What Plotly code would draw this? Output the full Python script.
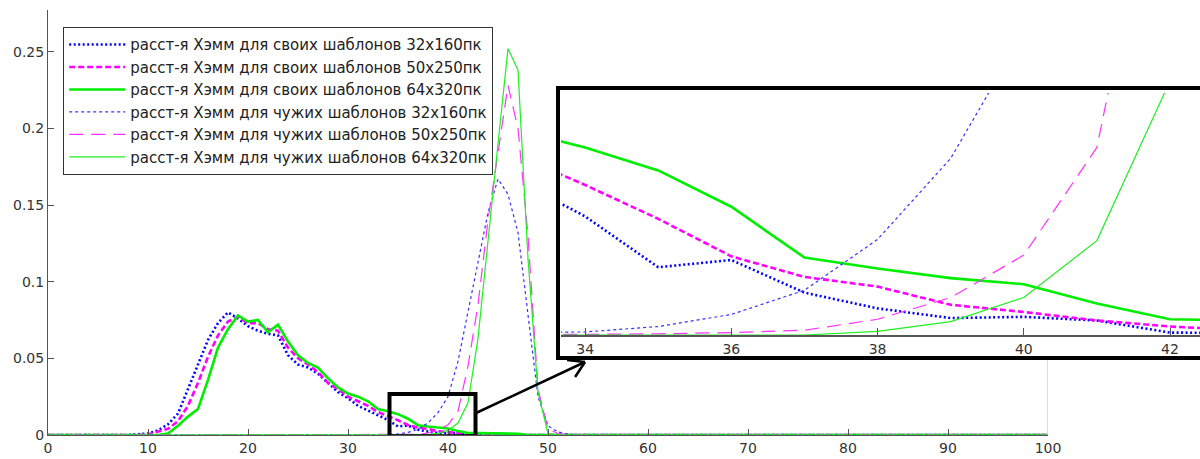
import math
import plotly.graph_objects as go

# ---------------- data ----------------
x_own = [0] + list(range(8, 49)) + [100]
blue_own = [0, 0, 0.0005, 0.001, 0.003, 0.007, 0.014, 0.030, 0.045, 0.062, 0.073,
            0.080, 0.076, 0.071, 0.068, 0.066, 0.065, 0.052, 0.046, 0.044, 0.040,
            0.034, 0.028, 0.024, 0.019, 0.016, 0.013, 0.0098, 0.0056, 0.0062, 0.0035,
            0.0022, 0.0014, 0.0015, 0.0012, 0.0002, 0.0001, 0.0001, 0, 0, 0, 0, 0]
pink_own = [0, 0, 0, 0.0005, 0.002, 0.004, 0.009, 0.019, 0.034, 0.051, 0.065,
            0.074, 0.077, 0.073, 0.073, 0.069, 0.068, 0.057, 0.050, 0.046, 0.041,
            0.034, 0.030, 0.025, 0.022, 0.019, 0.015, 0.0124, 0.0096, 0.0065, 0.0048,
            0.0040, 0.0025, 0.0019, 0.0012, 0.0007, 0.0004, 0.0002, 0.0001, 0, 0, 0, 0]
green_own = [0, 0, 0, 0, 0, 0.001, 0.006, 0.012, 0.017, 0.036, 0.057,
             0.069, 0.078, 0.074, 0.075, 0.067, 0.072, 0.061, 0.052, 0.047, 0.044,
             0.037, 0.031, 0.027, 0.025, 0.022, 0.017, 0.0155, 0.0136, 0.0106, 0.0064,
             0.0055, 0.0047, 0.0042, 0.0026, 0.0013, 0.0012, 0.001, 0.001, 0.001, 0.0008, 0, 0]

x_for = [0] + list(range(26, 54)) + [100]
blue_for = [0, 0, 0.0002, 0.0002, 0.0002, 0.0002, 0.0002, 0.0002, 0.0002, 0.00025,
            0.0007, 0.0017, 0.0037, 0.0079, 0.0146, 0.025, 0.048, 0.080, 0.112, 0.145,
            0.167, 0.157, 0.132, 0.077, 0.025, 0.006, 0.002, 0.0005, 0, 0]
pink_for = [0, 0, 0, 0, 0, 0, 0, 0, 0, 0.00005,
            0.0001, 0.0002, 0.0004, 0.0013, 0.0031, 0.0066, 0.0155, 0.045, 0.085, 0.14,
            0.185, 0.228, 0.200, 0.130, 0.030, 0.004, 0.001, 0, 0, 0]
green_for = [0, 0, 0, 0, 0, 0, 0, 0, 0, 0,
             0, 0, 0, 0.0003, 0.0011, 0.0031, 0.0078, 0.021, 0.063, 0.128,
             0.19, 0.252, 0.238, 0.115, 0.028, 0.001, 0, 0, 0, 0]

names = [
    "расст-я Хэмм для своих шаблонов 32x160пк",
    "расст-я Хэмм для своих шаблонов 50x250пк",
    "расст-я Хэмм для своих шаблонов 64x320пк",
    "расст-я Хэмм для чужих шаблонов 32x160пк",
    "расст-я Хэмм для чужих шаблонов 50x250пк",
    "расст-я Хэмм для чужих шаблонов 64x320пк",
]

main_xticks = list(range(0, 101, 10))
main_yticks = [0, 0.05, 0.1, 0.15, 0.2, 0.25]
main_yticktext = ["0", "0.05", "0.1", "0.15", "0.2", "0.25"]
inset_xticks = [34, 36, 38, 40, 42]
inset_xrange = [33.67, 42.41]
inset_yrange = [0, 0.02]
zoom_box_x = [34.15, 42.75]
zoom_box_y = [-0.0008, 0.0267]

# ---------------- layout geometry ----------------
W, H = 1200, 459
ML, MR, MT, MB = 48, 0, 10, 24
PW, PH = W - ML - MR, H - MT - MB


def px(xp):
    return (xp - ML) / PW


def py(yp):
    return (H - MB - yp) / PH


series = [
    (x_own, blue_own, "#0000ff", 2.6, "2px,2.5px"),
    (x_own, pink_own, "#ff00ff", 2.6, "6px,3px"),
    (x_own, green_own, "#00ee00", 2.6, None),
    (x_for, blue_for, "#3333ff", 1.2, "3px,3px"),
    (x_for, pink_for, "#ff33ff", 1.2, "14px,8px"),
    (x_for, green_for, "#22ee22", 1.2, None),
]

fig = go.Figure()
for (xs, ys, col, w, dash), nm in zip(series, names):
    ln = dict(color=col, width=w)
    if dash:
        ln["dash"] = dash
    fig.add_trace(go.Scatter(x=xs, y=ys, mode="lines", line=ln, name=nm,
                             xaxis="x", yaxis="y"))
for (xs, ys, col, w, dash), nm in zip(series, names):
    ln = dict(color=col, width=w)
    if dash:
        ln["dash"] = dash
    fig.add_trace(go.Scatter(x=xs, y=ys, mode="lines", line=ln, name=nm,
                             xaxis="x2", yaxis="y2", showlegend=False))

FONT = "DejaVu Sans, Verdana, sans-serif"
tickfont = dict(family=FONT, size=14, color="#333")
axcol = "#555"

fig.update_layout(
    width=W, height=H, autosize=False,
    margin=dict(l=ML, r=MR, t=MT, b=MB, pad=0, autoexpand=False),
    paper_bgcolor="white", plot_bgcolor="white",
    xaxis=dict(domain=[0, 1000 / PW], range=[0, 100], tickvals=main_xticks,
               ticks="inside", ticklen=6, tickcolor=axcol, showline=True,
               linecolor=axcol, linewidth=1, showgrid=False, zeroline=False,
               tickfont=tickfont, automargin=False),
    yaxis=dict(domain=[0, 1], range=[0, (H - MB - MT) / 1533.0], tickvals=main_yticks,
               ticktext=main_yticktext, ticks="inside", ticklen=6, tickcolor=axcol,
               showline=True, linecolor=axcol, linewidth=1, showgrid=False,
               zeroline=False, tickfont=tickfont, automargin=False),
    xaxis2=dict(domain=[px(561), 1.0], range=inset_xrange, tickvals=inset_xticks,
                ticks="inside", ticklen=7, tickcolor=axcol, showline=True,
                linecolor=axcol, linewidth=1.5, showgrid=False, zeroline=False,
                anchor="y2", tickfont=tickfont, automargin=False),
    yaxis2=dict(domain=[py(335), py(93)], range=inset_yrange, showticklabels=False,
                ticks="", showline=False, showgrid=False, zeroline=False, anchor="x2",
                automargin=False),
    legend=dict(x=px(63), y=py(27), xanchor="left", yanchor="top",
                bgcolor="white", bordercolor="#333", borderwidth=1.2,
                font=dict(family=FONT, size=15, color="#222"),
                tracegroupgap=0, itemwidth=56),
    showlegend=True,
)

# right border of main axes (visible below inset)
fig.add_shape(type="line", xref="x", yref="y", x0=100, x1=100, y0=0, y1=0.05,
              line=dict(color="#d0d0d0", width=1.5))
# zoom rectangle on main axes
fig.add_shape(type="rect", xref="x", yref="y", x0=zoom_box_x[0], x1=zoom_box_x[1],
              y0=zoom_box_y[0], y1=zoom_box_y[1], line=dict(color="black", width=4),
              layer="above")
# inset border
fig.add_shape(type="rect", xref="paper", yref="paper", x0=px(558), x1=px(1205),
              y0=py(358), y1=py(88), line=dict(color="black", width=4), layer="above")
# arrow from zoom box to inset
tail = (476, 413)
tip = (585, 362)
fig.add_shape(type="line", xref="paper", yref="paper", x0=px(tail[0]), y0=py(tail[1]),
              x1=px(tip[0]), y1=py(tip[1]), line=dict(color="black", width=2.5))
ang = math.atan2(tail[1] - tip[1], tail[0] - tip[0])
for d in (-0.55, 0.55):
    a = ang + d
    ex, ey = tip[0] + 18 * math.cos(a), tip[1] + 18 * math.sin(a)
    fig.add_shape(type="line", xref="paper", yref="paper", x0=px(tip[0]), y0=py(tip[1]),
                  x1=px(ex), y1=py(ey), line=dict(color="black", width=2.5))

fig.write_html(
    "out.html",
    config={"responsive": False, "displayModeBar": False},
    post_script=(
        "document.documentElement.style.overflow='hidden';"
        "document.body.style.margin='0px';document.body.style.overflow='hidden';"
        "var gd=document.getElementById('{plot_id}');"
        "Plotly.relayout(gd,{width:%d,height:%d});" % (W, H)
    ),
)
